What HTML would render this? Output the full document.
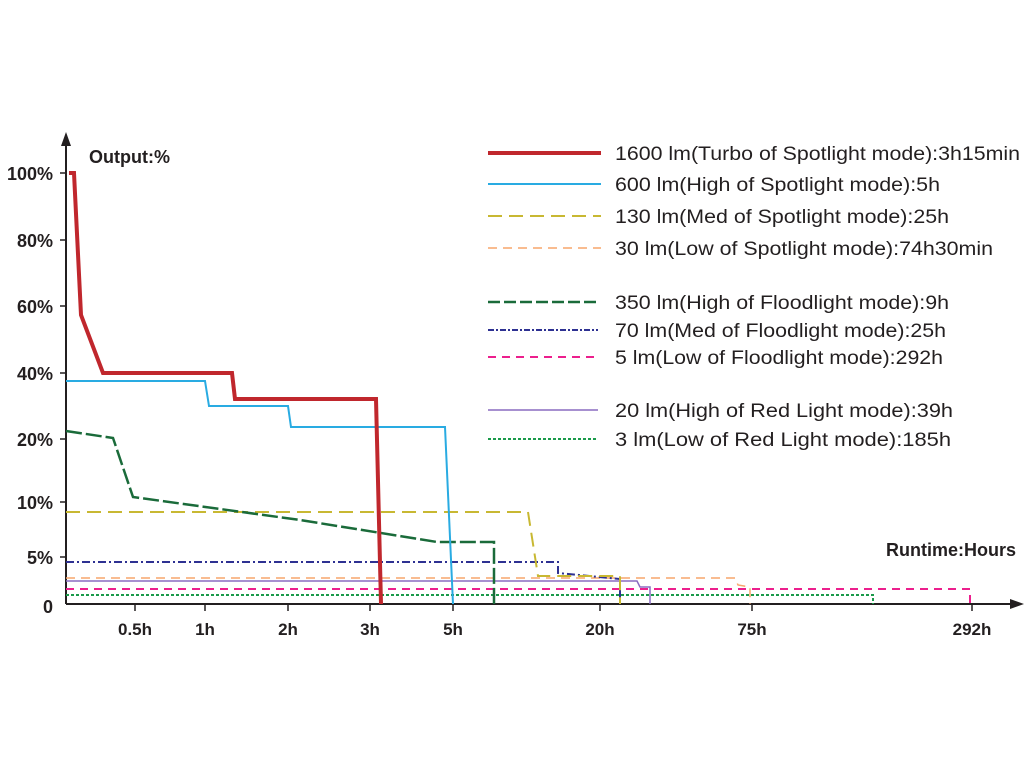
<!DOCTYPE html>
<html><head><meta charset="utf-8"><style>html,body{margin:0;padding:0;background:#fff}svg{display:block}</style></head>
<body>
<svg width="1024" height="768" viewBox="0 0 1024 768" xmlns="http://www.w3.org/2000/svg" font-family="Liberation Sans, Arial, sans-serif">
<line x1="66" y1="604" x2="66" y2="140" stroke="#231f20" stroke-width="2"/>
<polygon points="66,132 61,146 71,146" fill="#231f20"/>
<line x1="66" y1="604" x2="1014" y2="604" stroke="#231f20" stroke-width="2"/>
<polygon points="1024,604 1010,599 1010,609" fill="#231f20"/>
<g stroke="#231f20" stroke-width="1.5">
<line x1="60" y1="173" x2="66" y2="173"/><line x1="60" y1="240" x2="66" y2="240"/><line x1="60" y1="306" x2="66" y2="306"/><line x1="60" y1="373" x2="66" y2="373"/><line x1="60" y1="439" x2="66" y2="439"/><line x1="60" y1="502" x2="66" y2="502"/><line x1="60" y1="557" x2="66" y2="557"/>
<line x1="135" y1="604" x2="135" y2="611"/><line x1="205" y1="604" x2="205" y2="611"/><line x1="288" y1="604" x2="288" y2="611"/><line x1="370" y1="604" x2="370" y2="611"/><line x1="453" y1="604" x2="453" y2="611"/><line x1="600" y1="604" x2="600" y2="611"/><line x1="752" y1="604" x2="752" y2="611"/><line x1="972" y1="604" x2="972" y2="611"/>
</g>
<g font-weight="bold" font-size="18" fill="#231f20" text-anchor="end">
<text x="53" y="180">100%</text><text x="53" y="247">80%</text><text x="53" y="313">60%</text><text x="53" y="380">40%</text><text x="53" y="446">20%</text><text x="53" y="509">10%</text><text x="53" y="564">5%</text><text x="53" y="613">0</text>
</g>
<g font-weight="bold" font-size="17" fill="#231f20" text-anchor="middle">
<text x="135" y="635">0.5h</text><text x="205" y="635">1h</text><text x="288" y="635">2h</text><text x="370" y="635">3h</text><text x="453" y="635">5h</text><text x="600" y="635">20h</text><text x="752" y="635">75h</text><text x="972" y="635">292h</text>
</g>
<text x="89" y="163" font-weight="bold" font-size="18" fill="#231f20">Output:%</text>
<text x="1016" y="556" font-weight="bold" font-size="18" fill="#231f20" text-anchor="end">Runtime:Hours</text>
<g fill="none">
<polyline points="66,589 970,589 970,604" stroke="#ec1f8d" stroke-width="2" stroke-dasharray="8,6"/>
<polyline points="66,595 873,595 873,604" stroke="#1a9a4a" stroke-width="2" stroke-dasharray="3,2"/>
<polyline points="66,581 637,581 640,587 650,587 650,604" stroke="#8a6bc0" stroke-width="1.5"/>
<polyline points="66,578 735,578 738,585 750,587 750,604" stroke="#f7a66b" stroke-width="1.5" stroke-dasharray="9,6"/>
<polyline points="66,562 558,562 558,573 620,579 620,604" stroke="#2e3192" stroke-width="2" stroke-dasharray="8,3,2,3"/>
<polyline points="66,512 528,512 538,576 620,576 620,604" stroke="#c8b832" stroke-width="2" stroke-dasharray="14,7"/>
<polyline points="66,431 113,438 133,497 300,520 437,542 494,542 494,604" stroke="#1a6b3a" stroke-width="2.5" stroke-dasharray="16,4"/>
<polyline points="66,381 205,381 209,406 288,406 291,427 445,427 453,604" stroke="#29abe2" stroke-width="2"/>
<polyline points="69,173 74,173 81,315 103,373 232,373 235,399 373,399 376,399 381,604" stroke="#c0272d" stroke-width="4"/>
</g>
<g fill="none">
<line x1="488" y1="153" x2="601" y2="153" stroke="#c0272d" stroke-width="4"/>
<line x1="488" y1="184" x2="601" y2="184" stroke="#29abe2" stroke-width="2"/>
<line x1="488" y1="216" x2="601" y2="216" stroke="#c8b832" stroke-width="2" stroke-dasharray="14,7"/>
<line x1="488" y1="248" x2="601" y2="248" stroke="#f7a66b" stroke-width="1.5" stroke-dasharray="9,6"/>
<line x1="488" y1="302" x2="598" y2="302" stroke="#1a6b3a" stroke-width="2.5" stroke-dasharray="12,4"/>
<line x1="488" y1="330" x2="598" y2="330" stroke="#2e3192" stroke-width="2" stroke-dasharray="6,2,2,2"/>
<line x1="488" y1="357" x2="598" y2="357" stroke="#ec1f8d" stroke-width="2" stroke-dasharray="8,6"/>
<line x1="488" y1="410" x2="598" y2="410" stroke="#8a6bc0" stroke-width="1.5"/>
<line x1="488" y1="439" x2="598" y2="439" stroke="#1a9a4a" stroke-width="2" stroke-dasharray="3,2"/>
</g>
<g font-size="19" fill="#231f20" lengthAdjust="spacingAndGlyphs">
<text x="615" y="160" textLength="405" lengthAdjust="spacingAndGlyphs">1600 lm(Turbo of Spotlight mode):3h15min</text>
<text x="615" y="191" textLength="325" lengthAdjust="spacingAndGlyphs">600 lm(High of Spotlight mode):5h</text>
<text x="615" y="223" textLength="334" lengthAdjust="spacingAndGlyphs">130 lm(Med of Spotlight mode):25h</text>
<text x="615" y="255" textLength="378" lengthAdjust="spacingAndGlyphs">30 lm(Low of Spotlight mode):74h30min</text>
<text x="615" y="309" textLength="334" lengthAdjust="spacingAndGlyphs">350 lm(High of Floodlight mode):9h</text>
<text x="615" y="337" textLength="331" lengthAdjust="spacingAndGlyphs">70 lm(Med of Floodlight mode):25h</text>
<text x="615" y="364" textLength="328" lengthAdjust="spacingAndGlyphs">5 lm(Low of Floodlight mode):292h</text>
<text x="615" y="417" textLength="338" lengthAdjust="spacingAndGlyphs">20 lm(High of Red Light mode):39h</text>
<text x="615" y="446" textLength="336" lengthAdjust="spacingAndGlyphs">3 lm(Low of Red Light mode):185h</text>
</g>
</svg>
</body></html>
